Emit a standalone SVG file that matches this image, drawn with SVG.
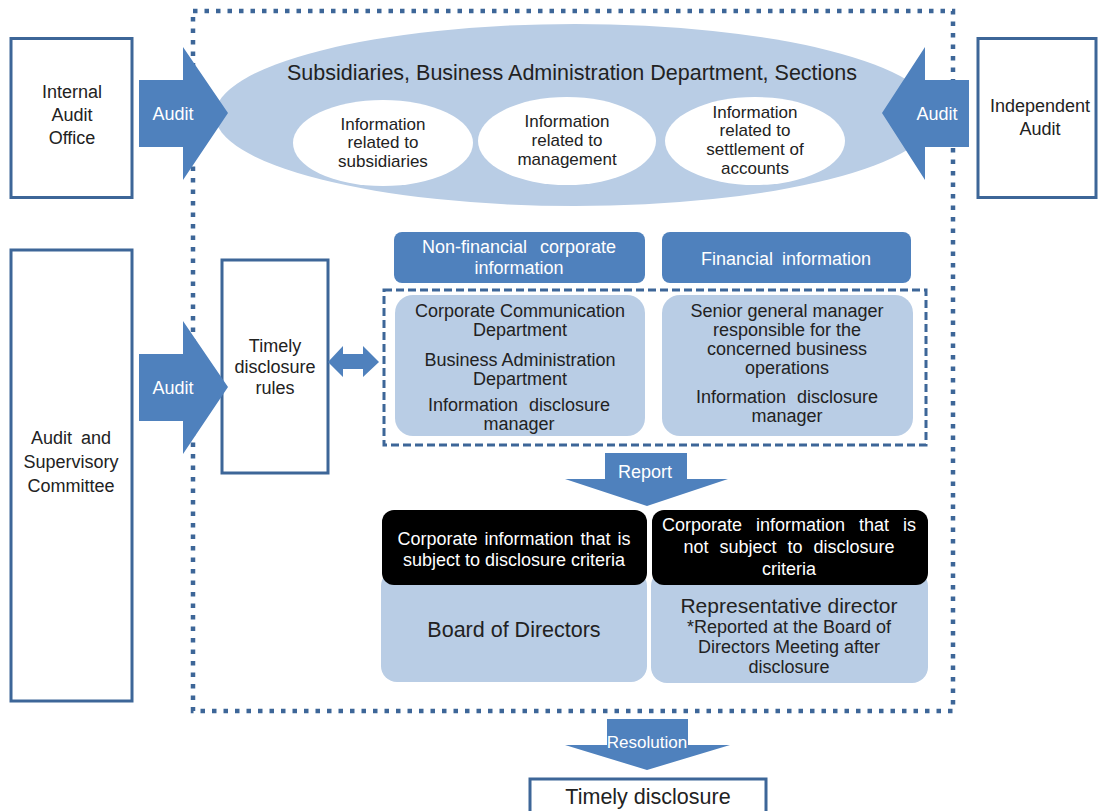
<svg xmlns="http://www.w3.org/2000/svg" width="1099" height="811" viewBox="0 0 1099 811">
<style>
text{font-family:"Liberation Sans",Arial,sans-serif;text-anchor:middle;dominant-baseline:central;fill:#222}
.w{fill:#fff}
.box{fill:#fff;stroke:#3D6698;stroke-width:3}
.arrow{fill:#4F81BD}
.light{fill:#B9CDE5}
.hdr{fill:#4F81BD}
.blk{fill:#000}
.t18{font-size:18px}
.t17{font-size:17px}
.t22{font-size:21.5px}
</style>
<rect width="1099" height="811" fill="#fff"/>

<g id="outer-frame">
<rect x="193" y="11" width="760" height="700" fill="none" stroke="#3D6698" stroke-width="4.5" stroke-dasharray="4.5 7"/>
</g>

<g id="subsidiaries">
<ellipse cx="575" cy="115" rx="360" ry="91" class="light"/>
<text x="572" y="73" class="t22">Subsidiaries, Business Administration Department, Sections</text>
</g>
<g id="info-subsidiaries">
<ellipse cx="383" cy="143" rx="90" ry="43" fill="#fff"/>
<text x="383" y="124" class="t17">Information</text>
<text x="383" y="142" class="t17">related to</text>
<text x="383" y="161" class="t17">subsidiaries</text>
</g>
<g id="info-management">
<ellipse cx="567" cy="141" rx="89" ry="44" fill="#fff"/>
<text x="567" y="121" class="t17">Information</text>
<text x="567" y="140" class="t17">related to</text>
<text x="567" y="159" class="t17">management</text>
</g>
<g id="info-settlement">
<ellipse cx="755" cy="141" rx="90" ry="44" fill="#fff"/>
<text x="755" y="112" class="t17">Information</text>
<text x="755" y="130" class="t17">related to</text>
<text x="755" y="149" class="t17">settlement of</text>
<text x="755" y="168" class="t17">accounts</text>
</g>

<g id="internal-audit-office">
<rect x="11" y="38.5" width="121" height="159" class="box"/>
<text x="72" y="92" class="t18">Internal</text>
<text x="72" y="115" class="t18">Audit</text>
<text x="72" y="138" class="t18">Office</text>
</g>
<g id="independent-audit">
<rect x="978" y="38.5" width="118" height="159" class="box"/>
<text x="1040" y="106" class="t18">Independent</text>
<text x="1040" y="129" class="t18">Audit</text>
</g>
<g id="audit-supervisory-committee">
<rect x="11" y="250" width="121" height="451" class="box"/>
<text x="71" y="438" class="t18" word-spacing="4">Audit and</text>
<text x="71" y="462" class="t18">Supervisory</text>
<text x="71" y="486" class="t18">Committee</text>
</g>
<g id="timely-disclosure-rules">
<rect x="222" y="260" width="106" height="213" class="box"/>
<text x="275" y="346" class="t18">Timely</text>
<text x="275" y="367" class="t18">disclosure</text>
<text x="275" y="388" class="t18">rules</text>
</g>

<g id="connectors">
<path class="arrow" d="M139,80 H183 V47 L228,113 L183,180 V147 H139 Z"/>
<text x="173" y="114" class="t18 w">Audit</text>
<path class="arrow" d="M969,80 H925 V47 L882,113 L925,180 V147 H969 Z"/>
<text x="937" y="114" class="t18 w">Audit</text>
<path class="arrow" d="M139,354 H183 V321 L228,387 L183,454 V421 H139 Z"/>
<text x="173" y="388" class="t18 w">Audit</text>
<path class="arrow" d="M328,362 L343,346 V354 H363 V346 L379,362 L363,377 V369 H343 V377 Z"/>
<path class="arrow" d="M605,453 H687 V479 H728 L647,506 L565,479 H605 Z"/>
<text x="645" y="472" class="t18 w">Report</text>
<path class="arrow" d="M607,719 H688 V745 H730 L647,770 L565,745 H607 Z"/>
<text x="647" y="742" class="t17 w">Resolution</text>
</g>

<g id="disclosure-group">
<rect x="384" y="290" width="542" height="155" fill="none" stroke="#3D6698" stroke-width="3" stroke-dasharray="8 4"/>
</g>
<g id="non-financial-header">
<rect x="394" y="232" width="251" height="51" rx="8" class="hdr"/>
<text x="519" y="247" class="t18 w" word-spacing="8">Non-financial corporate</text>
<text x="519" y="268" class="t18 w">information</text>
</g>
<g id="financial-header">
<rect x="662" y="232" width="249" height="51" rx="8" class="hdr"/>
<text x="786" y="259" class="t18 w" word-spacing="4">Financial information</text>
</g>
<g id="non-financial-dept">
<rect x="395" y="295" width="250" height="141" rx="18" class="light"/>
<text x="520" y="311" class="t18">Corporate Communication</text>
<text x="520" y="330" class="t18">Department</text>
<text x="520" y="360" class="t18">Business Administration</text>
<text x="520" y="379" class="t18">Department</text>
<text x="519" y="405" class="t18" word-spacing="6">Information disclosure</text>
<text x="519" y="424" class="t18">manager</text>
</g>
<g id="financial-dept">
<rect x="662" y="295" width="251" height="141" rx="18" class="light"/>
<text x="787" y="311" class="t18">Senior general manager</text>
<text x="787" y="330" class="t18">responsible for the</text>
<text x="787" y="349" class="t18">concerned business</text>
<text x="787" y="368" class="t18">operations</text>
<text x="787" y="397" class="t18" word-spacing="6">Information disclosure</text>
<text x="787" y="416" class="t18">manager</text>
</g>

<g id="board-of-directors">
<rect x="381" y="570" width="266" height="112" rx="16" class="light"/>
<rect x="382" y="510" width="265" height="75" rx="12" class="blk"/>
<text x="514" y="539" class="t18 w" word-spacing="2">Corporate information that is</text>
<text x="514" y="560" class="t18 w">subject to disclosure criteria</text>
<text x="514" y="630" font-size="21.5">Board of Directors</text>
</g>
<g id="representative-director">
<rect x="651" y="570" width="277" height="113" rx="16" class="light"/>
<rect x="652" y="510" width="276" height="75" rx="12" class="blk"/>
<text x="789" y="525" class="t18 w" word-spacing="9">Corporate information that is</text>
<text x="789" y="547" class="t18 w" word-spacing="6">not subject to disclosure</text>
<text x="789" y="569" class="t18 w">criteria</text>
<text x="789" y="605" font-size="21">Representative director</text>
<text x="789" y="627" class="t18">*Reported at the Board of</text>
<text x="789" y="647" class="t18">Directors Meeting after</text>
<text x="789" y="667" class="t18">disclosure</text>
</g>

<g id="timely-disclosure">
<rect x="530" y="779" width="236" height="40" class="box"/>
<text x="648" y="797" font-size="21.5">Timely disclosure</text>
</g>
</svg>
